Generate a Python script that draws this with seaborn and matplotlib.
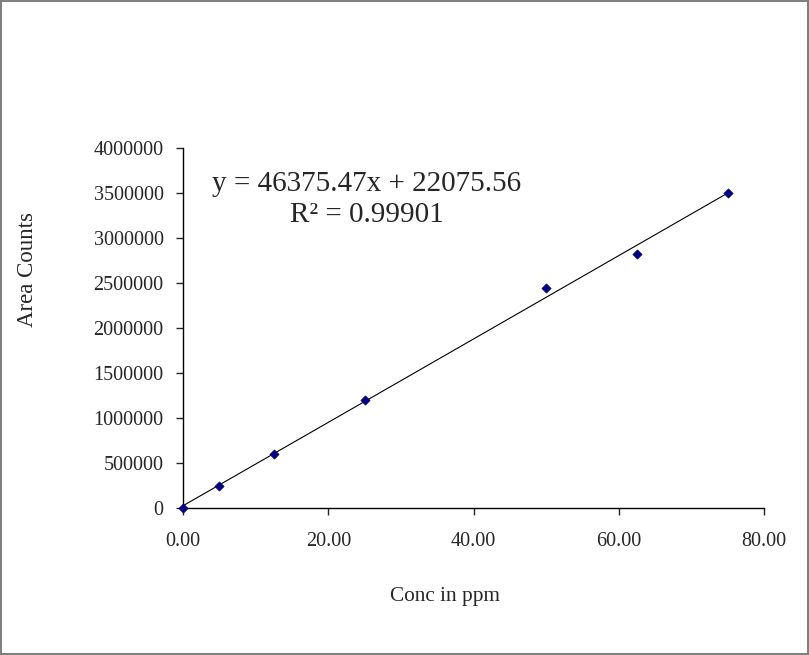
import numpy as np
import pandas as pd
import matplotlib
matplotlib.use("Agg")
import matplotlib.pyplot as plt
import seaborn as sns

# calibration data
conc_ppm = [0.0, 5.0, 12.5, 25.0, 50.0, 62.5, 75.0]
area_counts = [0, 245000, 605000, 1205000, 2450000, 2825000, 3500000]
x_ticks = [0, 20, 40, 60, 80]
y_ticks = [0, 500000, 1000000, 1500000, 2000000, 2500000, 3000000, 3500000, 4000000]
eq_text = "y = 46375.47x + 22075.56\nR\u00b2 = 0.99901"

df = pd.DataFrame({"conc": conc_ppm, "area": area_counts})

sns.set_style("white")
plt.rcParams["font.family"] = ["Liberation Serif", "DejaVu Serif"]

fig = plt.figure(figsize=(8.09, 6.55), dpi=100, linewidth=1.5, edgecolor="#7f7f7f")
ax = fig.add_axes([0.2262, 0.2244, 0.7182, 0.5496])

# trendline + points
sns.regplot(data=df, x="conc", y="area", ci=None, ax=ax, scatter=False,
            line_kws={"color": "black", "linewidth": 0.8})
sns.scatterplot(data=df, x="conc", y="area", ax=ax, marker="D", color="#000080",
                s=22, edgecolor="#000080", linewidth=0.5, zorder=3, clip_on=False)

ax.set_xlim(0, 80)
ax.set_ylim(0, 4000000)
ax.set_xticks(x_ticks)
ax.set_xticklabels([f"{t:.2f}" for t in x_ticks])
ax.set_yticks(y_ticks)
ax.set_yticklabels([str(t) for t in y_ticks])
ax.tick_params(axis="x", direction="out", length=5, width=1, pad=12, labelsize=14.5, bottom=True)
ax.tick_params(axis="y", direction="out", length=5, width=1, pad=9, labelsize=14.5, left=True)

for side in ["top", "right"]:
    ax.spines[side].set_visible(False)
for side in ["left", "bottom"]:
    ax.spines[side].set_color("black")
    ax.spines[side].set_linewidth(1)

ax.set_xlabel("Conc in ppm", fontsize=15.3)
ax.set_ylabel("Area Counts", fontsize=16.5)
ax.xaxis.set_label_coords((445 - 183) / 581, -(587 - 508) / 360)
ax.yaxis.set_label_coords(-(183 - 38) / 581, (508 - 269) / 360)

ax.text(25.3, 3430000, eq_text, fontsize=21, ha="center", va="center",
        multialignment="center", linespacing=1.25)

plt.savefig("out.png", dpi=100)
